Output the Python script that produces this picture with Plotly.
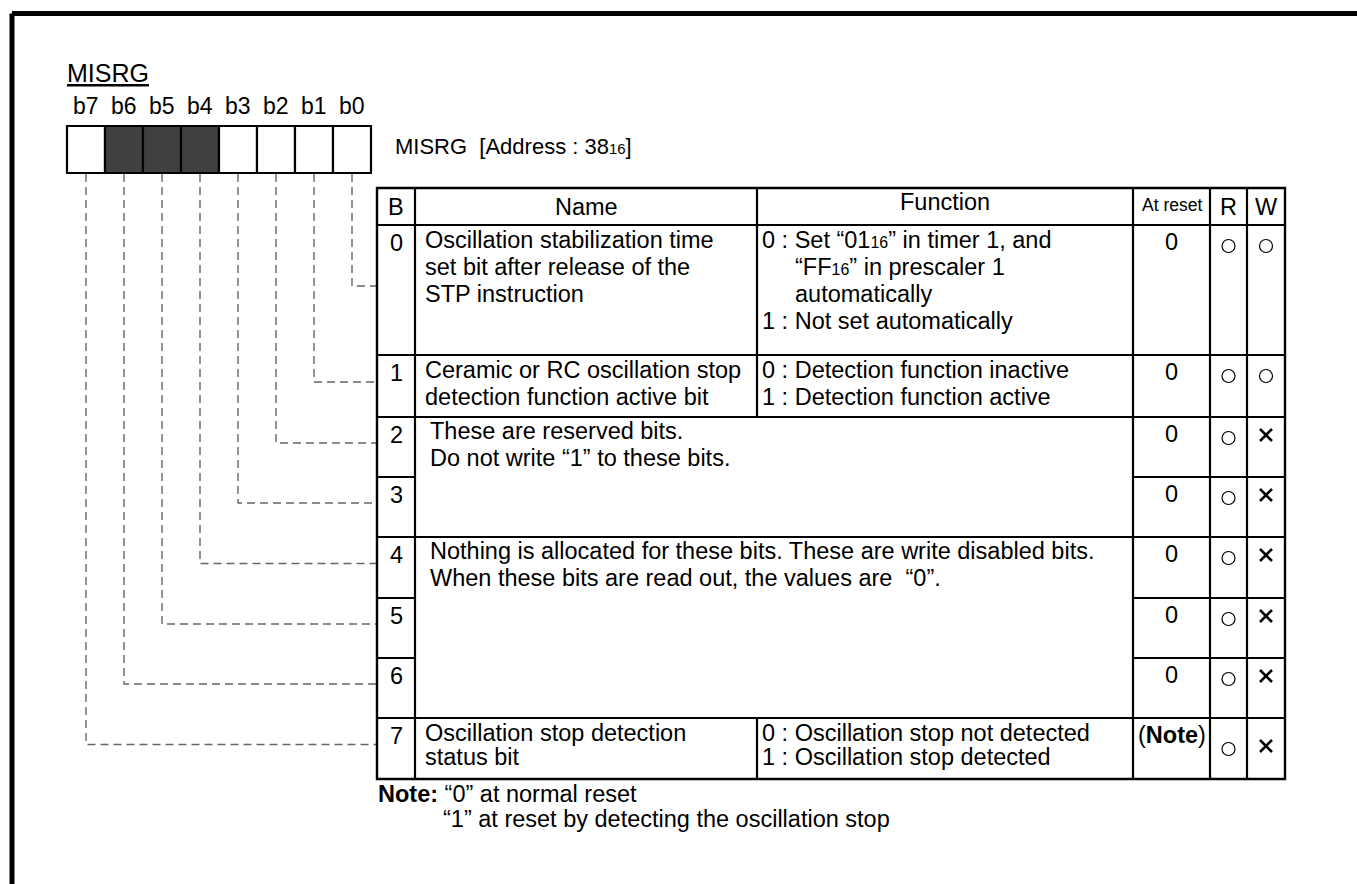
import plotly.graph_objects as go

# ---------------- data ----------------
register_name = "MISRG"
register_address = "38"
bit_labels = ["b7", "b6", "b5", "b4", "b3", "b2", "b1", "b0"]
bit_unused = [False, True, True, True, False, False, False, False]

SUB16 = "<span style='font-size:68%'>16</span>"
header_labels = ["B", "Name", "Function", "At reset", "R", "W"]
bit_numbers = ["0", "1", "2", "3", "4", "5", "6", "7"]
bit_names = {
    0: ["Oscillation stabilization time", "set bit after release of the", "STP instruction"],
    1: ["Ceramic or RC oscillation stop", "detection function active bit"],
    7: ["Oscillation stop detection", "status bit"],
}
bit_functions = {
    0: ["0 : Set “01" + SUB16 + "” in timer 1, and", "“FF" + SUB16 + "” in prescaler 1",
        "automatically", "1 : Not set automatically"],
    1: ["0 : Detection function inactive", "1 : Detection function active"],
    7: ["0 : Oscillation stop not detected", "1 : Oscillation stop detected"],
}
merged_descriptions = [
    (2, 3, ["These are reserved bits.", "Do not write “1” to these bits."]),
    (4, 6, ["Nothing is allocated for these bits. These are write disabled bits.",
            "When these bits are read out, the values are \u00a0“0”."]),
]
at_reset_values = ["0", "0", "0", "0", "0", "0", "0", "(<b>Note</b>)"]
read_access = ["○", "○", "○", "○", "○", "○", "○", "○"]
write_access = ["○", "○", "×", "×", "×", "×", "×", "×"]
note_lines = ["<b>Note:</b> “0” at normal reset",
              "“1” at reset by detecting the oscillation stop"]

# ---------------- layout geometry ----------------
W, H = 1357, 884
FONT = "Liberation Sans, Arial, Helvetica, sans-serif"
FS = 23.5
BLACK = "#000000"

box_x0, box_w, box_y0, box_y1 = 67, 38, 126, 173
col_x = [377, 415, 757, 1133, 1210, 1247, 1285]
header_top = 188
row_tops = [225, 355, 417, 477, 537, 598, 658, 718]
table_bottom = 779
row_bottoms = row_tops[1:] + [table_bottom]
line_gap = {0: 27, 1: 27, 7: 24}

shapes = []
annotations = []


def line(x0, y0, x1, y1, width=2.2, color=BLACK, dash=None):
    d = dict(type="line", xref="x", yref="y", x0=x0, y0=y0, x1=x1, y1=y1,
             line=dict(color=color, width=width))
    if dash:
        d["line"]["dash"] = dash
    shapes.append(d)


def txt(x, y, s, size=FS, anchor="left"):
    annotations.append(dict(x=x, y=y, xref="x", yref="y", text=s, showarrow=False,
                            xanchor=anchor, yanchor="middle", align=anchor,
                            font=dict(family=FONT, size=size, color=BLACK),
                            borderpad=0))


# outer frame (clipped by page)
line(12, 13.5, W + 10, 13.5, width=5)
line(12, 13.5, 12, H + 10, width=5)

# register title
txt(66, 73, "<u>" + register_name + "</u>", size=25)

# bit boxes + labels
for i, lab in enumerate(bit_labels):
    x0 = box_x0 + i * box_w
    shapes.append(dict(type="rect", xref="x", yref="y", x0=x0, x1=x0 + box_w,
                       y0=box_y0, y1=box_y1,
                       fillcolor="#404040" if bit_unused[i] else "white",
                       line=dict(color=BLACK, width=2.2)))
    txt(x0 + box_w / 2, 106, lab, size=23, anchor="center")

txt(394, 146, register_name + "\u00a0 [Address : " + register_address + SUB16 + "]", size=22)

# dashed connectors from each bit to its table row
for i, lab in enumerate(bit_labels):
    n = 7 - i
    xc = box_x0 + i * box_w + box_w / 2
    yc = (row_tops[n] + row_bottoms[n]) / 2 - 4
    shapes.append(dict(type="path", xref="x", yref="y",
                       path=f"M {xc},{box_y1 + 1} L {xc},{yc} L {col_x[0]},{yc}",
                       line=dict(color="#666666", width=1.4, dash="8px,5px")))

# table grid
L, R = col_x[0], col_x[-1]
shapes.append(dict(type="rect", xref="x", yref="y", x0=L, x1=R, y0=header_top,
                   y1=table_bottom, line=dict(color=BLACK, width=2.4)))
for cx in (col_x[1], col_x[3], col_x[4], col_x[5]):
    line(cx, header_top, cx, table_bottom)
line(col_x[2], header_top, col_x[2], row_bottoms[1])
line(col_x[2], row_tops[7], col_x[2], table_bottom)
line(L, row_tops[0], R, row_tops[0])
merged_inner = {r for a, b, _ in merged_descriptions for r in range(a + 1, b + 1)}
for n in range(1, 8):
    y = row_tops[n]
    if n in merged_inner:
        line(L, y, col_x[1], y)
        line(col_x[3], y, R, y)
    else:
        line(L, y, R, y)

# header text
hy = (header_top + row_tops[0]) / 2
centers = [(col_x[k] + col_x[k + 1]) / 2 for k in range(6)]
for k, lab in enumerate(header_labels):
    if lab == "At reset":
        txt(centers[k], hy - 2, lab, size=17.5, anchor="center")
    elif lab == "Function":
        txt(centers[k], hy - 5, lab, anchor="center")
    else:
        txt(centers[k], hy, lab, anchor="center")

# rows
for n in range(8):
    top = row_tops[n]
    txt(centers[0], top + 18, bit_numbers[n], anchor="center")
    gap = line_gap.get(n, 26)
    for j, s in enumerate(bit_names.get(n, [])):
        txt(col_x[1] + 9, top + 15 + j * gap, s)
    for j, s in enumerate(bit_functions.get(n, [])):
        indent = 0 if s[:3] in ("0 :", "1 :") else 33
        txt(col_x[2] + 4 + indent, top + 15 + j * gap, s)
    txt(centers[3], top + 17, at_reset_values[n], anchor="center")

for a, b, lines_ in merged_descriptions:
    for j, s in enumerate(lines_):
        txt(col_x[1] + 14, row_tops[a] + 14 + j * 27, s)

# R / W marks
mx, my, ms = [], [], []
for n in range(8):
    yy = row_tops[n] + (31 if n == 7 else 21)
    mx += [centers[4], centers[5]]
    my += [yy, yy]
    ms += [read_access[n], write_access[n]]
circ = [(x, y) for x, y, s in zip(mx, my, ms) if s == "○"]
cros = [(x, y) for x, y, s in zip(mx, my, ms) if s == "×"]
fig = go.Figure()
fig.add_trace(go.Scatter(x=[c[0] for c in circ], y=[c[1] for c in circ], mode="markers",
                         marker=dict(symbol="circle-open", size=13, color=BLACK,
                                     line=dict(width=1.2, color=BLACK)),
                         hoverinfo="skip"))
fig.add_trace(go.Scatter(x=[c[0] for c in cros], y=[c[1] - 3 for c in cros], mode="markers",
                         marker=dict(symbol="x-thin", size=12, color=BLACK,
                                     line=dict(width=2.6, color=BLACK)),
                         hoverinfo="skip"))

# note
txt(col_x[0], 794, note_lines[0], size=FS)
txt(col_x[0] + 65, 819, note_lines[1], size=FS)

fig.update_layout(
    width=W, height=H, autosize=False,
    margin=dict(l=0, r=0, t=0, b=0, pad=0),
    paper_bgcolor="white", plot_bgcolor="white",
    showlegend=False,
    xaxis=dict(range=[0, W], visible=False, fixedrange=True),
    yaxis=dict(range=[H, 0], visible=False, fixedrange=True),
    shapes=shapes, annotations=annotations,
)
fig.write_html("out.html", config={"displayModeBar": False},
               post_script="document.body.style.margin='0';document.body.style.overflow='hidden';")
